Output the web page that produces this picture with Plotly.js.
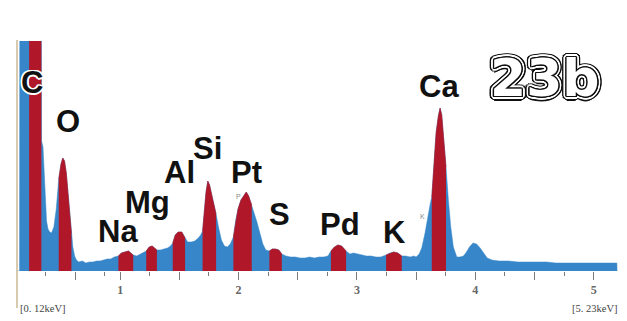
<!DOCTYPE html>
<html>
<head>
<meta charset="utf-8">
<script src="https://cdn.plot.ly/plotly-3.0.1.min.js"></script>
<style>html,body{margin:0;padding:0;background:#fff;}#chart{width:627px;height:321px;}</style>
</head>
<body>
<div id="chart"></div>
<script>
// ---- Data ----
const energyKeV = [0.120,0.150,0.152,0.200,0.231,0.260,0.300,0.320,0.334,0.336,0.348,0.358,0.368,0.378,0.390,0.405,0.420,0.440,0.460,0.481,
0.500,0.515,0.530,0.545,0.560,0.575,0.588,0.600,0.615,0.630,0.650,0.680,0.710,0.740,0.770,0.800,0.830,0.860,0.890,0.920,
0.950,0.985,1.010,1.040,1.070,1.090,1.110,1.140,1.170,1.200,1.220,1.245,1.270,1.290,1.310,1.340,1.370,1.400,1.425,1.444,
1.465,1.490,1.520,1.548,1.570,1.600,1.630,1.660,1.680,1.696,1.710,1.725,1.740,1.755,1.770,1.790,1.810,1.830,1.855,1.880,
1.905,1.930,1.956,1.975,1.995,2.020,2.045,2.065,2.085,2.111,2.130,2.155,2.180,2.205,2.230,2.260,2.285,2.310,2.340,2.365,
2.400,2.440,2.480,2.520,2.560,2.600,2.640,2.680,2.720,2.755,2.780,2.810,2.840,2.870,2.908,2.940,2.970,3.000,3.040,3.080,
3.120,3.160,3.200,3.225,3.246,3.280,3.310,3.345,3.378,3.410,3.450,3.480,3.500,3.525,3.547,3.575,3.603,3.620,3.632,3.645,
3.668,3.687,3.702,3.716,3.736,3.752,3.772,3.792,3.814,3.843,3.870,3.900,3.925,3.950,3.980,4.010,4.040,4.070,4.100,4.140,
4.200,4.280,4.360,4.440,4.520,4.600,4.680,4.760,4.840,4.920,5.000,5.080,5.160,5.195,5.197];
const counts = [0,0,300,320,330,340,320,290,250,130,124,100,70,50,42,39,38,44,62,92,
107,113,110,98,78,55,38,24,15,11,9,10,8,9,9,10,10,11,12,12,
14,15,18,19,20,18,16,15,17,19,20,24,25,23,21,21,22,23,25,28,
36,39,39,33,29,29,30,33,36,40,58,79,90,86,78,68,57,44,31,25,
24,27,34,50,62,71,76,79,75,66,59,49,38,27,21,20,22,22,21,17,
15,14,14,13,13,14,13,14,14,15,20,24,26,25,20,17,18,17,16,15,
15,14,14,15,16,18,19,18,15,15,14,15,14,17,23,38,58,68,74,100,
138,155,163,156,131,104,71,44,24,14,14,15,19,24,28,27,23,18,13,11,
10,10,9,9,9,9,8,8,8,8,8,8,8,8,0];

const elements    = ['C','O','Na','Mg','Al','Si','Pt','S','Pd','K','Ca'];
const windowStart = [0.231,0.481,0.985,1.220,1.444,1.696,1.956,2.260,2.780,3.246,3.632];
const windowEnd   = [0.334,0.588,1.110,1.310,1.548,1.810,2.111,2.365,2.908,3.378,3.752];

const tickVals  = [0.62,1,1.5,2,2.5,3,3.5,4,4.5,5];
const tickText  = ['','1','','2','','3','','4','','5'];
const minorTickVals = [0.37,0.87,1.25,1.75,2.25,2.75,3.25,3.75,4.25,4.75];
const rangeLabels = ['[0. 12keV]','[5. 23keV]'];
const sampleLabel = '23b';

// ---- Styling ----
const BLUE = '#3786c9';
const RED  = '#b0182a';
const W = 627, H = 321;
const M = {l:16, r:6, t:41, b:50};
const PW = W - M.l - M.r, PH = H - M.t - M.b;
const px = (X) => (X - M.l) / PW;
const py = (Y) => (H - M.b - Y) / PH;

const traces = [{
  x: energyKeV, y: counts, type: 'scatter', mode: 'lines',
  fill: 'tozeroy', fillcolor: BLUE, line: {color: BLUE, width: 0.5},
  hoverinfo: 'skip'
}];
windowStart.forEach((s, i) => {
  const e = windowEnd[i];
  const xs = [], ys = [];
  energyKeV.forEach((v, j) => { if (v >= s - 1e-9 && v <= e + 1e-9) { xs.push(v); ys.push(counts[j]); } });
  traces.push({x: xs, y: ys, type: 'scatter', mode: 'lines', fill: 'tozeroy',
    fillcolor: RED, line: {color: RED, width: 0.5}, hoverinfo: 'skip'});
});

function ring(r, color) {
  const parts = [];
  for (let k = 0; k < 16; k++) {
    const a = k * Math.PI / 8;
    parts.push((r * Math.cos(a)).toFixed(2) + 'px ' + (r * Math.sin(a)).toFixed(2) + 'px 0 ' + color);
  }
  return parts.join(', ');
}

// label centres in pixels
const labelPos = [[32,82],[68,122],[118,231],[147,203],[180,172],[207,148],[246,172],[279,214],[340,224],[394,232],[439,86]];
const annotations = elements.map((t, i) => ({
  text: t, xref: 'paper', yref: 'paper', x: px(labelPos[i][0]), y: py(labelPos[i][1]),
  xanchor: 'center', yanchor: 'middle', showarrow: false,
  font: {family: 'Liberation Sans, Arial, sans-serif', size: 31, color: '#111', weight: 'bold',
         shadow: t === 'C' ? ring(1.5, '#ffffff') : 'none'}
}));
// tiny markers
annotations.push({text: 'P', xref:'paper', yref:'paper', x: px(238), y: py(202), showarrow:false,
  font:{family:'Liberation Sans', size:7, color:'#888'}});
annotations.push({text: 'K', xref:'paper', yref:'paper', x: px(427), y: py(222), showarrow:false,
  font:{family:'Liberation Sans', size:7, color:'#888'}});
// range labels
annotations.push({text: rangeLabels[0], xref:'paper', yref:'paper', x: px(18), y: py(308), xanchor:'left', yanchor:'middle',
  showarrow:false, font:{family:'Liberation Serif, serif', size:10.5, color:'#444'}});
annotations.push({text: rangeLabels[1], xref:'paper', yref:'paper', x: px(620), y: py(308), xanchor:'right', yanchor:'middle',
  showarrow:false, font:{family:'Liberation Serif, serif', size:10.5, color:'#444'}});
// outlined sample label (layered double outline)
const sFont = {family: 'DejaVu Sans, sans-serif', size: 52, weight: 'bold'};
[['#111', ring(4.5, '#111')], ['#fff', ring(3, '#fff')], ['#111', ring(1.3, '#111')], ['#fff', 'none']].forEach(([c, sh]) => {
  annotations.push({text: sampleLabel, xref:'paper', yref:'paper', x: px(545), y: py(78),
    xanchor:'center', yanchor:'middle', showarrow:false,
    font: Object.assign({}, sFont, {color: c, shadow: sh})});
});

const layout = {
  width: W, height: H, margin: Object.assign({pad: 0}, M),
  paper_bgcolor: '#fff', plot_bgcolor: '#fff', showlegend: false,
  xaxis: {
    range: [0.12, 5.23], tickmode: 'array', tickvals: tickVals, ticktext: tickText,
    ticks: 'outside', ticklen: 8, tickwidth: 1, tickcolor: '#7c7c7c',
    showgrid: false, zeroline: false, showline: false, automargin: false, fixedrange: true,
    tickfont: {family: 'Liberation Serif, serif', size: 12, color: '#666', weight: 'bold'},
    minor: {tickmode: 'array', tickvals: minorTickVals, ticks: 'outside', ticklen: 4, tickwidth: 1, tickcolor: '#7c7c7c', showgrid: false}
  },
  yaxis: {range: [0, 230], visible: false, fixedrange: true},
  shapes: [{type: 'line', xref: 'paper', yref: 'paper', x0: px(17), x1: px(17), y0: py(308), y1: py(40),
            line: {color: '#cbb994', width: 1.5}}],
  annotations: annotations
};

Plotly.newPlot('chart', traces, layout, {staticPlot: true, displayModeBar: false});
</script>
</body>
</html>
